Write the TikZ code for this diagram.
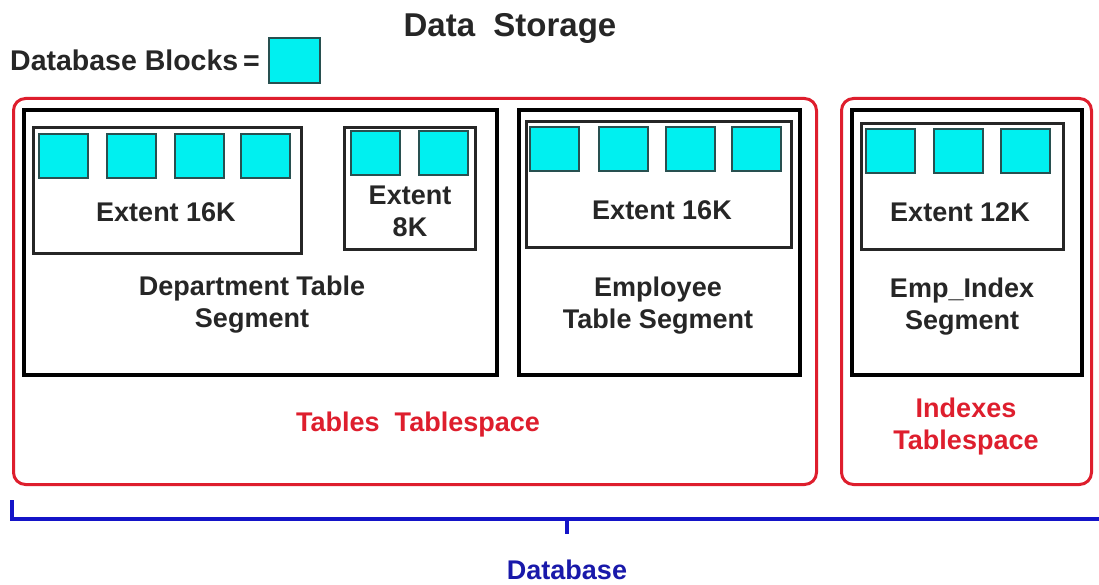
\documentclass[tikz,border=0pt]{standalone}
\usepackage{fontspec}
\setmainfont{Liberation Sans}
\definecolor{tsred}{RGB}{222,30,45}
\definecolor{blockfill}{RGB}{0,240,240}
\definecolor{blockedge}{RGB}{40,80,80}
\definecolor{dbblue}{RGB}{20,20,200}
\definecolor{dbtext}{RGB}{25,25,170}
\tikzset{
  tspace/.style={draw=tsred, line width=3pt, rounded corners=12pt, anchor=north west, inner sep=0pt},
  segbox/.style={draw=black, line width=4pt, anchor=north west, inner sep=0pt},
  extbox/.style={draw=black!85, line width=3pt, anchor=north west, inner sep=0pt},
  dblock/.style={draw=blockedge, fill=blockfill, line width=2pt, anchor=north west,
    inner sep=0pt, minimum width=49pt, minimum height=44pt},
  lbl/.style={font=\bfseries\fontsize{27}{32}\selectfont, text=black!85, align=center, inner sep=0pt},
  redlbl/.style={lbl, text=tsred},
}
\begin{document}
\begin{tikzpicture}[x=1pt, y=-1pt]
\useasboundingbox[fill=white] (0,0) rectangle (1099,585);

% title and legend
\node[lbl, font=\bfseries\fontsize{33}{38}\selectfont] (title) at (510,28) {Data\ \ Storage};
\node[lbl, font=\bfseries\fontsize{28.5}{33}\selectfont, anchor=west] (legend) at (10,60) {Database Blocks\,=};
\node[dblock, minimum width=51pt, minimum height=45pt] (legendblock) at (268,37) {};

% tablespaces
\node[tspace, minimum width=803pt, minimum height=386pt] (tables) at (12,97) {};
\node[tspace, minimum width=250pt, minimum height=386pt] (indexes) at (840,97) {};

% segments
\node[segbox, minimum width=473pt, minimum height=265pt] (deptseg) at (22,108) {};
\node[segbox, minimum width=281pt, minimum height=265pt] (empseg) at (517,108) {};
\node[segbox, minimum width=230pt, minimum height=265pt] (idxseg) at (850,108) {};

% extents
\node[extbox, minimum width=268pt, minimum height=126pt] (dext1) at (32,126) {};
\node[extbox, minimum width=131pt, minimum height=122pt] (dext2) at (343,126) {};
\node[extbox, minimum width=265pt, minimum height=126pt] (eext) at (525,120) {};
\node[extbox, minimum width=202pt, minimum height=126pt] (iext) at (860,122) {};

% database blocks
\foreach \x [count=\i] in {38,106,174,240}
  \node[dblock] (d1b\i) at (\x,133) {};
\foreach \x [count=\i] in {350,418}
  \node[dblock] (d2b\i) at (\x,130) {};
\foreach \x [count=\i] in {529,598,665,731}
  \node[dblock] (eb\i) at (\x,126) {};
\foreach \x [count=\i] in {865,933,1000}
  \node[dblock] (ib\i) at (\x,128) {};

% labels
\node[lbl] (dext1lbl) at (166,212) {Extent 16K};
\node[lbl] (dext2lbl) at (410,211) {Extent\\8K};
\node[lbl] (eextlbl) at (662,210) {Extent 16K};
\node[lbl] (iextlbl) at (960,212) {Extent 12K};
\node[lbl] (deptlbl) at (252,305) {Department Table\\Segment};
\node[lbl] (emplbl) at (658,306) {Employee\\Table Segment};
\node[lbl] (idxlbl) at (962,307) {Emp\_Index\\Segment};
\node[redlbl] (tableslbl) at (418,425) {Tables\ \ Tablespace};
\node[redlbl] (indexeslbl) at (966,427) {Indexes\\Tablespace};

% database brace
\coordinate (bl) at (12,500);
\coordinate (bc) at (567,519);
\coordinate (br) at (1099,519);
\draw[dbblue, line width=3.5pt] (bl) |- (br);
\draw[dbblue, line width=3.5pt] (bc) -- ++(0,15);
\node[lbl, text=dbtext] (dblbl) at (567,570) {Database};
\end{tikzpicture}
\end{document}
